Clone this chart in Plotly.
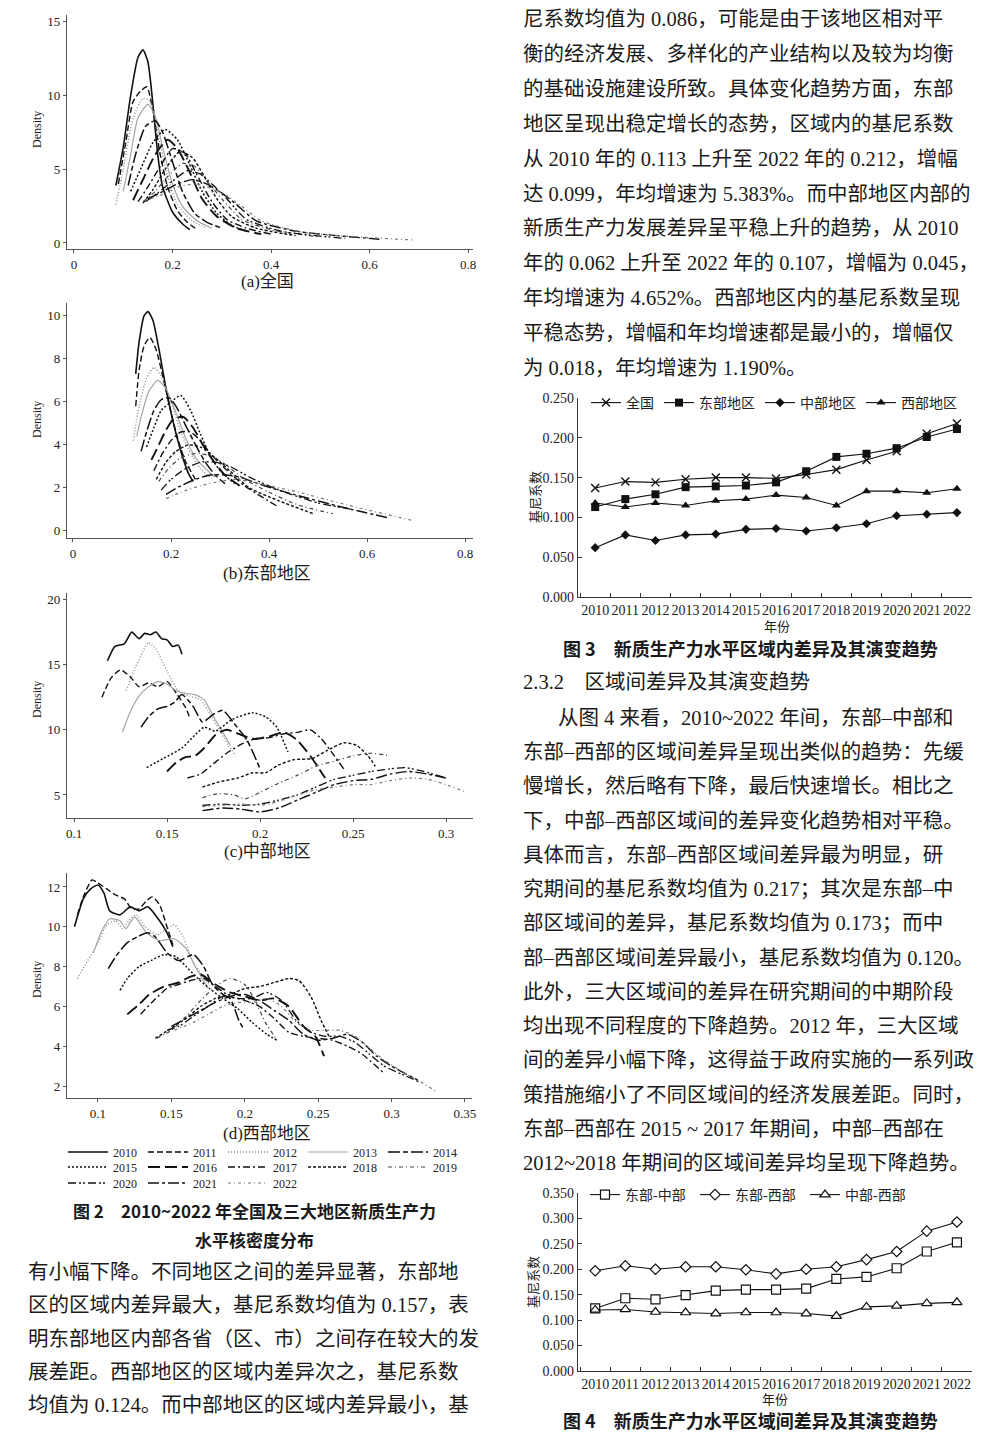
import plotly.graph_objects as go

# page offset of the default HTML body margin
OFF = 8
W, H = 992, 1448


def fx(p):
    return (p - OFF) / W


def fy(p):
    return 1 - (p - OFF) / H


YEARS = [str(y) for y in range(2010, 2023)]

# ---------------- Figure 2 kernel density curves ----------------
nat_x = [
    [0.085, 0.10, 0.115, 0.13, 0.14, 0.15, 0.16, 0.17, 0.18, 0.20, 0.22, 0.235],
    [0.09, 0.105, 0.12, 0.135, 0.148, 0.16, 0.175, 0.19, 0.21, 0.23, 0.25],
    [0.085, 0.10, 0.12, 0.14, 0.155, 0.17, 0.19, 0.21, 0.24, 0.27],
    [0.10, 0.115, 0.13, 0.15, 0.165, 0.18, 0.20, 0.22, 0.25, 0.28],
    [0.11, 0.125, 0.145, 0.165, 0.18, 0.20, 0.22, 0.245, 0.27, 0.30],
    [0.115, 0.135, 0.16, 0.185, 0.21, 0.235, 0.26, 0.29, 0.32, 0.35],
    [0.12, 0.14, 0.165, 0.19, 0.21, 0.235, 0.26, 0.29, 0.33, 0.38],
    [0.13, 0.15, 0.175, 0.20, 0.225, 0.25, 0.28, 0.31, 0.35, 0.40],
    [0.14, 0.16, 0.185, 0.215, 0.24, 0.265, 0.29, 0.32, 0.37, 0.45],
    [0.14, 0.165, 0.19, 0.22, 0.245, 0.27, 0.30, 0.34, 0.40, 0.50],
    [0.145, 0.17, 0.20, 0.23, 0.255, 0.28, 0.31, 0.35, 0.42, 0.55],
    [0.15, 0.175, 0.21, 0.24, 0.27, 0.30, 0.33, 0.37, 0.45, 0.62],
    [0.155, 0.18, 0.21, 0.245, 0.28, 0.31, 0.34, 0.38, 0.47, 0.69],
]
nat_y = [
    [3.9, 6.5, 10.0, 12.6, 13.1, 12.3, 9.5, 6.0, 3.8, 2.1, 1.3, 0.9],
    [4.0, 6.8, 9.6, 10.3, 10.6, 9.0, 6.0, 3.8, 2.2, 1.4, 0.9],
    [2.6, 5.0, 8.5, 9.8, 9.6, 7.5, 4.5, 2.6, 1.5, 1.0],
    [3.5, 6.0, 8.5, 9.4, 8.6, 6.5, 4.0, 2.5, 1.5, 1.0],
    [3.9, 6.0, 7.9, 8.3, 7.5, 5.5, 3.5, 2.0, 1.4, 1.0],
    [3.5, 5.0, 6.8, 7.7, 7.0, 5.3, 3.5, 2.0, 1.2, 0.8],
    [2.9, 4.3, 6.0, 7.0, 6.4, 4.8, 3.0, 1.8, 1.0, 0.6],
    [2.8, 3.8, 5.2, 6.4, 6.1, 4.6, 2.8, 1.6, 1.0, 0.6],
    [2.7, 3.6, 5.0, 6.2, 5.8, 4.5, 3.0, 1.8, 1.0, 0.5],
    [2.8, 3.5, 4.5, 5.4, 5.2, 4.2, 3.0, 1.6, 0.9, 0.4],
    [2.8, 3.4, 4.2, 4.9, 4.7, 4.0, 3.0, 1.6, 0.8, 0.3],
    [3.0, 3.4, 4.0, 4.3, 4.0, 3.4, 2.6, 1.5, 0.8, 0.25],
    [3.0, 3.3, 3.8, 4.0, 3.7, 3.2, 2.5, 1.5, 0.7, 0.2],
]

east_x = [
    [0.128, 0.135, 0.145, 0.153, 0.163, 0.175, 0.19, 0.205, 0.22, 0.235, 0.245],
    [0.128, 0.135, 0.145, 0.157, 0.17, 0.185, 0.20, 0.215, 0.23, 0.25],
    [0.123, 0.135, 0.15, 0.165, 0.18, 0.20, 0.22, 0.24, 0.26, 0.28],
    [0.13, 0.14, 0.155, 0.173, 0.19, 0.21, 0.23, 0.25, 0.275, 0.29],
    [0.139, 0.15, 0.165, 0.18, 0.195, 0.21, 0.23, 0.25, 0.27, 0.29, 0.31],
    [0.15, 0.165, 0.18, 0.20, 0.22, 0.24, 0.26, 0.28, 0.30, 0.33],
    [0.16, 0.175, 0.19, 0.205, 0.225, 0.245, 0.265, 0.285, 0.31, 0.34],
    [0.165, 0.18, 0.20, 0.22, 0.24, 0.26, 0.28, 0.31, 0.35, 0.42],
    [0.17, 0.19, 0.21, 0.235, 0.26, 0.29, 0.32, 0.36, 0.42, 0.49],
    [0.175, 0.195, 0.22, 0.25, 0.28, 0.31, 0.35, 0.40, 0.46, 0.53],
    [0.18, 0.20, 0.23, 0.26, 0.29, 0.32, 0.36, 0.42, 0.50, 0.57],
    [0.19, 0.22, 0.25, 0.28, 0.31, 0.34, 0.39, 0.45, 0.55, 0.645],
    [0.19, 0.22, 0.26, 0.30, 0.33, 0.36, 0.40, 0.46, 0.56, 0.69],
]
east_y = [
    [7.3, 8.8, 10.0, 10.2, 9.8, 8.5, 6.6, 5.0, 3.7, 2.7, 2.3],
    [5.8, 7.5, 8.6, 9.0, 8.4, 7.0, 5.5, 4.2, 3.2, 2.4],
    [4.2, 5.8, 7.1, 7.6, 7.2, 6.0, 4.6, 3.6, 2.9, 2.5],
    [4.4, 5.4, 6.5, 7.0, 6.6, 5.5, 4.3, 3.4, 2.8, 2.5],
    [3.7, 4.6, 5.6, 6.1, 6.2, 5.8, 4.9, 4.0, 3.2, 2.6, 2.2],
    [3.9, 4.8, 5.6, 6.0, 6.3, 5.6, 4.5, 3.5, 2.8, 2.2],
    [3.3, 4.0, 4.7, 5.2, 5.3, 4.8, 4.0, 3.3, 2.6, 2.1],
    [2.8, 3.5, 4.2, 4.6, 4.6, 4.2, 3.6, 2.9, 2.1, 1.1],
    [2.4, 3.2, 3.7, 4.0, 3.9, 3.4, 2.8, 2.0, 1.4, 0.8],
    [2.3, 2.9, 3.4, 3.6, 3.5, 3.1, 2.4, 1.8, 1.2, 0.8],
    [1.9, 2.4, 2.9, 3.2, 3.2, 3.0, 2.5, 1.9, 1.3, 1.0],
    [1.7, 2.1, 2.4, 2.6, 2.6, 2.5, 2.1, 1.7, 1.1, 0.6],
    [1.5, 1.8, 2.1, 2.3, 2.4, 2.3, 2.1, 1.8, 1.2, 0.5],
]

cent_x = [
    [0.118, 0.122, 0.127, 0.131, 0.135, 0.138, 0.141, 0.144, 0.147, 0.150, 0.153, 0.156, 0.158],
    [0.115, 0.12, 0.125, 0.13, 0.135, 0.14, 0.145, 0.15, 0.155, 0.16, 0.162],
    [0.128, 0.133, 0.137, 0.14, 0.144, 0.15, 0.156, 0.162, 0.168, 0.172, 0.178, 0.183, 0.187],
    [0.126, 0.13, 0.135, 0.14, 0.145, 0.15, 0.155, 0.16, 0.165, 0.17, 0.175, 0.18, 0.184],
    [0.136, 0.14, 0.145, 0.15, 0.154, 0.158, 0.164, 0.169, 0.175, 0.18, 0.186, 0.193, 0.2],
    [0.139, 0.148, 0.158, 0.165, 0.17, 0.176, 0.185, 0.196, 0.203, 0.209, 0.215],
    [0.15, 0.155, 0.16, 0.165, 0.17, 0.176, 0.182, 0.19, 0.197, 0.205, 0.213, 0.22, 0.228, 0.235],
    [0.161, 0.168, 0.175, 0.182, 0.19, 0.197, 0.205, 0.213, 0.22, 0.227, 0.233, 0.24, 0.245],
    [0.169, 0.178, 0.188, 0.196, 0.203, 0.21, 0.218, 0.228, 0.236, 0.245, 0.252, 0.258, 0.262],
    [0.169, 0.178, 0.186, 0.192, 0.2, 0.21, 0.22, 0.23, 0.24, 0.25, 0.26, 0.27],
    [0.169, 0.18, 0.19, 0.2, 0.21, 0.22, 0.23, 0.24, 0.25, 0.26, 0.27, 0.278, 0.288, 0.3],
    [0.169, 0.18, 0.19, 0.2, 0.21, 0.22, 0.23, 0.24, 0.25, 0.26, 0.27, 0.28, 0.29, 0.3],
    [0.169, 0.18, 0.19, 0.2, 0.21, 0.22, 0.23, 0.24, 0.25, 0.26, 0.27, 0.28, 0.29, 0.3, 0.311],
]
cent_y = [
    [15.3, 16.4, 16.6, 17.5, 17.0, 17.4, 17.3, 17.5, 17.0, 16.9, 16.4, 16.5, 15.8],
    [12.5, 14.0, 14.6, 14.1, 13.3, 13.6, 13.3, 13.7, 12.8, 11.7, 11.0],
    [13.0, 14.8, 16.0, 16.7, 16.2, 14.5, 13.0, 12.6, 12.3, 11.5, 10.0, 8.8, 8.0],
    [9.8, 11.3, 12.6, 13.3, 13.7, 13.5, 13.0, 12.8, 12.7, 12.3, 11.0, 9.8, 8.8],
    [10.2, 11.0, 11.6, 11.8, 12.1, 12.7, 11.8, 10.6, 11.2, 11.5, 10.5, 9.2, 7.0],
    [7.1, 7.8, 8.6, 9.6, 10.2, 9.9, 10.8, 11.3, 11.0, 10.2, 8.3],
    [6.8, 7.5, 7.9, 8.0, 8.6, 9.6, 10.0, 9.6, 9.3, 9.5, 9.8, 9.2, 7.8, 6.3],
    [6.3, 6.6, 7.4, 8.2, 8.9, 9.3, 9.4, 9.7, 9.8, 10.0, 9.3, 8.0, 7.0],
    [5.6, 6.0, 6.3, 6.7, 6.7, 7.3, 7.7, 7.8, 8.4, 9.0, 8.8, 8.0, 7.2],
    [4.8, 5.1, 5.0, 4.7, 5.2, 5.9, 6.5, 7.2, 7.6, 8.0, 8.2, 8.0],
    [4.2, 4.3, 4.2, 4.3, 4.6, 5.0, 5.6, 6.2, 6.5, 6.8, 7.0, 7.1, 6.8, 6.3],
    [3.8, 4.0, 3.9, 3.7, 4.0, 4.6, 5.2, 5.8, 6.1, 6.2, 6.6, 6.8, 6.6, 6.3],
    [4.1, 4.2, 4.3, 4.2, 4.5, 5.0, 5.4, 5.6, 5.8, 5.8, 6.1, 6.3, 6.2, 5.8, 5.2],
]

west_x = [
    [0.084, 0.09, 0.095, 0.1, 0.104, 0.108, 0.115, 0.122, 0.128, 0.134, 0.141, 0.147, 0.151],
    [0.086, 0.09, 0.096, 0.1, 0.106, 0.112, 0.118, 0.123, 0.128, 0.133, 0.137, 0.142, 0.147, 0.151],
    [0.086, 0.093, 0.1, 0.106, 0.112, 0.117, 0.121, 0.126, 0.132, 0.14, 0.147, 0.152, 0.158, 0.165, 0.176],
    [0.097, 0.102, 0.108, 0.115, 0.119, 0.125, 0.133, 0.142, 0.152, 0.16, 0.167, 0.175],
    [0.107, 0.113, 0.12, 0.127, 0.134, 0.139, 0.147, 0.155, 0.165, 0.172, 0.178, 0.185, 0.19, 0.196, 0.199],
    [0.115, 0.12, 0.128, 0.136, 0.145, 0.153, 0.16, 0.168, 0.176, 0.185, 0.195, 0.205, 0.215, 0.222],
    [0.12, 0.128, 0.135, 0.145, 0.155, 0.163, 0.17, 0.18, 0.19, 0.2, 0.21, 0.22, 0.23, 0.24, 0.248, 0.254],
    [0.129, 0.138, 0.147, 0.155, 0.163, 0.172, 0.18, 0.19, 0.2, 0.21, 0.22, 0.23, 0.24, 0.25, 0.26, 0.27, 0.28, 0.294],
    [0.139, 0.15, 0.16, 0.17, 0.18, 0.19, 0.2, 0.21, 0.22, 0.23, 0.237, 0.245, 0.252, 0.258],
    [0.14, 0.15, 0.16, 0.17, 0.18, 0.19, 0.2, 0.207, 0.214, 0.222],
    [0.147, 0.155, 0.165, 0.175, 0.185, 0.195, 0.205, 0.215, 0.225, 0.235, 0.245, 0.255, 0.265, 0.275, 0.285, 0.295, 0.31, 0.319],
    [0.15, 0.16, 0.17, 0.18, 0.19, 0.2, 0.21, 0.22, 0.23, 0.24, 0.25, 0.26, 0.27, 0.28, 0.29, 0.3, 0.31, 0.318],
    [0.152, 0.165, 0.175, 0.185, 0.195, 0.205, 0.215, 0.225, 0.235, 0.245, 0.255, 0.265, 0.275, 0.285, 0.295, 0.31, 0.32, 0.331],
]
west_y = [
    [10.0, 11.4, 11.9, 12.1, 11.7, 10.8, 10.6, 11.0, 10.8, 11.0, 10.4, 9.7, 9.0],
    [10.6, 11.5, 12.35, 12.2, 11.9, 11.6, 11.4, 10.9, 10.9, 11.3, 11.5, 11.1, 10.0, 9.1],
    [7.4, 8.3, 9.2, 10.1, 10.3, 9.9, 10.3, 10.6, 10.0, 9.6, 9.9, 10.1, 9.5, 8.2, 7.1],
    [8.7, 9.7, 10.4, 10.3, 9.9, 10.5, 9.7, 9.3, 9.4, 8.9, 7.9, 6.9],
    [7.9, 8.6, 9.2, 9.5, 9.7, 9.5, 8.7, 8.3, 8.6, 8.0, 7.1, 6.6, 6.4, 5.3, 4.9],
    [6.8, 7.4, 8.0, 8.3, 8.6, 8.5, 8.0, 7.4, 6.9, 6.4, 5.9, 5.2, 4.6, 4.3],
    [5.6, 6.1, 6.6, 7.0, 7.2, 7.5, 7.6, 7.1, 6.7, 6.5, 6.3, 6.4, 6.0, 5.0, 4.5, 3.5],
    [5.6, 6.3, 6.9, 7.1, 7.3, 7.4, 7.0, 6.5, 6.3, 6.0, 5.4, 4.7, 4.5, 4.4, 4.3, 4.0, 3.6, 2.7],
    [4.4, 4.9, 5.4, 6.0, 6.4, 6.6, 6.9, 7.0, 7.2, 7.4, 7.3, 6.5, 5.3, 4.4],
    [4.4, 4.8, 5.5, 6.3, 7.0, 7.4, 7.1, 6.3, 5.2, 4.3],
    [4.8, 5.0, 5.5, 6.0, 6.5, 6.4, 6.4, 6.7, 6.3, 5.3, 4.7, 4.5, 4.5, 4.2, 3.6, 3.0, 2.5, 2.2],
    [5.0, 5.4, 5.8, 6.2, 6.5, 6.6, 6.3, 5.8, 5.3, 4.6, 4.3, 4.4, 4.6, 4.2, 3.5, 3.0, 2.6, 2.3],
    [4.8, 5.2, 5.6, 6.0, 6.2, 6.2, 6.4, 6.0, 5.2, 4.8, 4.8, 4.8, 4.5, 3.9, 3.3, 2.6, 2.2, 1.7],
]

# ---------------- Figure 3: within-region Gini ----------------
fig3_national = [0.137, 0.145, 0.144, 0.148, 0.150, 0.150, 0.149, 0.154, 0.160, 0.172, 0.183, 0.205, 0.218]
fig3_east = [0.113, 0.123, 0.129, 0.138, 0.139, 0.140, 0.144, 0.158, 0.176, 0.180, 0.187, 0.201, 0.211]
fig3_central = [0.062, 0.078, 0.071, 0.078, 0.079, 0.085, 0.086, 0.083, 0.087, 0.092, 0.102, 0.104, 0.106]
fig3_west = [0.118, 0.113, 0.118, 0.115, 0.121, 0.123, 0.128, 0.125, 0.115, 0.133, 0.133, 0.131, 0.136]
fig3_names = ["全国", "东部地区", "中部地区", "西部地区"]

# ---------------- Figure 4: between-region Gini ----------------
fig4_east_central = [0.123, 0.143, 0.141, 0.149, 0.158, 0.160, 0.160, 0.162, 0.181, 0.185, 0.202, 0.235, 0.253]
fig4_east_west = [0.197, 0.207, 0.200, 0.205, 0.205, 0.199, 0.191, 0.200, 0.205, 0.219, 0.235, 0.275, 0.293]
fig4_central_west = [0.120, 0.121, 0.116, 0.115, 0.113, 0.115, 0.115, 0.113, 0.108, 0.126, 0.128, 0.133, 0.135]
fig4_names = ["东部-中部", "东部-西部", "中部-西部"]

gini_ticks3 = [0, 0.05, 0.10, 0.15, 0.20, 0.25]
gini_ticks4 = [0, 0.05, 0.10, 0.15, 0.20, 0.25, 0.30, 0.35]

# ---------------- text ----------------
right_para1 = [
    "尼系数均值为 0.086，可能是由于该地区相对平",
    "衡的经济发展、多样化的产业结构以及较为均衡",
    "的基础设施建设所致。具体变化趋势方面，东部",
    "地区呈现出稳定增长的态势，区域内的基尼系数",
    "从 2010 年的 0.113 上升至 2022 年的 0.212，增幅",
    "达 0.099，年均增速为 5.383%。而中部地区内部的",
    "新质生产力发展差异呈平稳上升的趋势，从 2010",
    "年的 0.062 上升至 2022 年的 0.107，增幅为 0.045，",
    "年均增速为 4.652%。西部地区内的基尼系数呈现",
    "平稳态势，增幅和年均增速都是最小的，增幅仅",
    "为 0.018，年均增速为 1.190%。",
]
right_para2 = [
    "从图 4 来看，2010~2022 年间，东部–中部和",
    "东部–西部的区域间差异呈现出类似的趋势：先缓",
    "慢增长，然后略有下降，最后快速增长。相比之",
    "下，中部–西部区域间的差异变化趋势相对平稳。",
    "具体而言，东部–西部区域间差异最为明显，研",
    "究期间的基尼系数均值为 0.217；其次是东部–中",
    "部区域间的差异，基尼系数均值为 0.173；而中",
    "部–西部区域间差异最小，基尼系数均值为 0.120。",
    "此外，三大区域间的差异在研究期间的中期阶段",
    "均出现不同程度的下降趋势。2012 年，三大区域",
    "间的差异小幅下降，这得益于政府实施的一系列政",
    "策措施缩小了不同区域间的经济发展差距。同时，",
    "东部–西部在 2015 ~ 2017 年期间，中部–西部在",
    "2012~2018 年期间的区域间差异均呈现下降趋势。",
]
left_para = [
    "有小幅下降。不同地区之间的差异显著，东部地",
    "区的区域内差异最大，基尼系数均值为 0.157，表",
    "明东部地区内部各省（区、市）之间存在较大的发",
    "展差距。西部地区的区域内差异次之，基尼系数",
    "均值为 0.124。而中部地区的区域内差异最小，基",
]

SERIF = "Liberation Serif, Noto Sans CJK SC"
CJK = "Noto Sans CJK SC"
INK = "#1a1a1a"

LINE_STYLES = [
    ("#111111", "solid", 1.6),
    ("#111111", "6px,3px", 1.4),
    ("#8c8c8c", "1px,2px", 1.4),
    ("#a5a5a5", "solid", 1.2),
    ("#111111", "12px,3px,5px,3px", 1.5),
    ("#111111", "2px,2px", 1.5),
    ("#111111", "12px,5px", 1.9),
    ("#111111", "7px,3px,2px,3px", 1.4),
    ("#111111", "3px,2px", 1.4),
    ("#444444", "4px,3px,1px,3px", 1.2),
    ("#111111", "8px,3px,2px,2px,2px,3px", 1.3),
    ("#111111", "11px,3px,3px,3px", 1.4),
    ("#777777", "3px,3px,1px,3px", 1.2),
]

fig = go.Figure()

panels = [
    (nat_x, nat_y, "x", "y", True),
    (east_x, east_y, "x2", "y2", False),
    (cent_x, cent_y, "x3", "y3", False),
    (west_x, west_y, "x4", "y4", False),
]


def legend_of(i):
    return "legend" if i < 5 else ("legend2" if i < 10 else "legend3")


for xs, ys, xa, ya, show in panels:
    for i, yr in enumerate(YEARS):
        color, dash, width = LINE_STYLES[i]
        fig.add_trace(go.Scatter(
            x=xs[i], y=ys[i], xaxis=xa, yaxis=ya, mode="lines", name=yr,
            line=dict(color=color, dash=dash, width=width, shape="spline", smoothing=0.6),
            showlegend=show, legend=legend_of(i), hoverinfo="skip"))

# Figure 3 traces
f3_series = [fig3_national, fig3_east, fig3_central, fig3_west]
f3_markers = [
    dict(symbol="x-thin-open", size=8, color="#111", line=dict(width=1.4, color="#111")),
    dict(symbol="square", size=8, color="#111"),
    dict(symbol="diamond", size=7, color="#111"),
    dict(symbol="triangle-up", size=8, color="#111"),
]
for name, vals, mk in zip(fig3_names, f3_series, f3_markers):
    fig.add_trace(go.Scatter(
        x=YEARS, y=vals, xaxis="x5", yaxis="y5", mode="lines+markers", name=name,
        line=dict(color="#111", width=1.1), marker=mk, legend="legend4", hoverinfo="skip"))

# Figure 4 traces
f4_series = [fig4_east_central, fig4_east_west, fig4_central_west]
f4_markers = [
    dict(symbol="square", size=9, color="white", line=dict(width=1.2, color="#111")),
    dict(symbol="diamond", size=8, color="white", line=dict(width=1.2, color="#111")),
    dict(symbol="triangle-up", size=9, color="white", line=dict(width=1.2, color="#111")),
]
for name, vals, mk in zip(fig4_names, f4_series, f4_markers):
    fig.add_trace(go.Scatter(
        x=YEARS, y=vals, xaxis="x6", yaxis="y6", mode="lines+markers", name=name,
        line=dict(color="#111", width=1.1), marker=mk, legend="legend5", hoverinfo="skip"))

tickfont = dict(family="Liberation Serif", size=13, color="#222")
tickfont14 = dict(family="Liberation Serif", size=14, color="#222")
dens_common = dict(showline=True, linecolor="#555", linewidth=1.4, ticks="outside", ticklen=3,
                   tickwidth=1, tickcolor="#555", showgrid=False, zeroline=False,
                   tickfont=tickfont, fixedrange=True)
line_common = dict(showline=True, linecolor="#333", linewidth=1.2, ticks="inside", ticklen=4,
                   tickwidth=1, tickcolor="#333", showgrid=False, zeroline=False,
                   tickfont=tickfont14, fixedrange=True)


def fmt_ticks(vals):
    return [f"{v:g}" for v in vals]


ax = {}
ax["xaxis"] = dict(domain=[fx(67), fx(473)], range=[-0.0142, 0.81], anchor="y",
                   tickvals=[0, 0.2, 0.4, 0.6, 0.8], ticktext=fmt_ticks([0, 0.2, 0.4, 0.6, 0.8]), **dens_common)
ax["yaxis"] = dict(domain=[fy(249), fy(15)], range=[-0.41, 15.47], anchor="x",
                   tickvals=[0, 5, 10, 15], **dens_common)
ax["xaxis2"] = dict(domain=[fx(67), fx(473)], range=[-0.0122, 0.816], anchor="y2",
                    tickvals=[0, 0.2, 0.4, 0.6, 0.8], ticktext=fmt_ticks([0, 0.2, 0.4, 0.6, 0.8]), **dens_common)
ax["yaxis2"] = dict(domain=[fy(538), fy(303)], range=[-0.33, 10.6], anchor="x2",
                    tickvals=[0, 2, 4, 6, 8, 10], **dens_common)
ax["xaxis3"] = dict(domain=[fx(67), fx(473)], range=[0.0962, 0.3145], anchor="y3",
                    tickvals=[0.1, 0.15, 0.2, 0.25, 0.3], ticktext=fmt_ticks([0.1, 0.15, 0.2, 0.25, 0.3]), **dens_common)
ax["yaxis3"] = dict(domain=[fy(818), fy(593)], range=[3.23, 20.5], anchor="x3",
                    tickvals=[5, 10, 15, 20], **dens_common)
ax["xaxis4"] = dict(domain=[fx(67), fx(472)], range=[0.0789, 0.3548], anchor="y4",
                    tickvals=[0.1, 0.15, 0.2, 0.25, 0.3, 0.35],
                    ticktext=fmt_ticks([0.1, 0.15, 0.2, 0.25, 0.3, 0.35]), **dens_common)
ax["yaxis4"] = dict(domain=[fy(1098), fy(873)], range=[1.40, 12.7], anchor="x4",
                    tickvals=[2, 4, 6, 8, 10, 12], **dens_common)
ax["xaxis5"] = dict(domain=[fx(578), fx(972)], type="category", categoryorder="array",
                    categoryarray=YEARS, range=[-0.57, 12.5], anchor="y5", tickson="boundaries",
                    tickangle=0, **line_common)
ax["yaxis5"] = dict(domain=[fy(597), fy(398)], range=[0, 0.25], anchor="x5",
                    tickvals=gini_ticks3, ticktext=[f"{v:.3f}" for v in gini_ticks3], **line_common)
ax["xaxis6"] = dict(domain=[fx(578), fx(972)], type="category", categoryorder="array",
                    categoryarray=YEARS, range=[-0.57, 12.5], anchor="y6", tickson="boundaries",
                    tickangle=0, **line_common)
ax["yaxis6"] = dict(domain=[fy(1371), fy(1193)], range=[0, 0.35], anchor="x6",
                    tickvals=gini_ticks4, ticktext=[f"{v:.3f}" for v in gini_ticks4], **line_common)

leg_dens = dict(orientation="h", font=dict(family="Liberation Serif", size=12, color="#222"),
                bgcolor="rgba(0,0,0,0)", borderwidth=0, itemwidth=40, entrywidth=25,
                entrywidthmode="pixels", xanchor="left", yanchor="middle", tracegroupgap=0,
                itemclick=False, itemdoubleclick=False)
leg_line = dict(orientation="h", font=dict(family=SERIF, size=14, color="#222"),
                bgcolor="rgba(0,0,0,0)", borderwidth=0, xanchor="left", yanchor="middle",
                itemclick=False, itemdoubleclick=False)

annotations = []


def txt(x, y, s, size=20.5, family=SERIF, xanchor="left", angle=0, color=INK):
    annotations.append(dict(x=fx(x), y=fy(y), xref="paper", yref="paper", text=s, showarrow=False,
                            xanchor=xanchor, yanchor="middle", textangle=angle,
                            font=dict(family=family, size=size, color=color)))


# density labels and panel captions
for yc in (130, 420, 700, 980):
    txt(37, yc, "Density", size=12, family="Liberation Serif", xanchor="center", angle=-90)
for yc, cap in ((281, "(a)全国"), (573, "(b)东部地区"), (851, "(c)中部地区"), (1133, "(d)西部地区")):
    txt(267, yc, cap, size=17, xanchor="center")

# figure captions
txt(254, 1210, "<b>图 2　2010~2022 年全国及三大地区新质生产力</b>", size=17, family=CJK, xanchor="center")
txt(254, 1239, "<b>水平核密度分布</b>", size=17, family=CJK, xanchor="center")
txt(750, 648, "<b>图 3　新质生产力水平区域内差异及其演变趋势</b>", size=18, family=CJK, xanchor="center")
txt(750, 1420, "<b>图 4　新质生产力水平区域间差异及其演变趋势</b>", size=18, family=CJK, xanchor="center")

# axis titles for fig 3 / fig 4
txt(534, 497, "基尼系数", size=13, family=CJK, xanchor="center", angle=-90)
txt(777, 625, "年份", size=13, family=CJK, xanchor="center")
txt(532, 1282, "基尼系数", size=13, family=CJK, xanchor="center", angle=-90)
txt(775, 1398, "年份", size=13, family=CJK, xanchor="center")

# body text
for i, line in enumerate(right_para1):
    txt(521, 19 + 34.9 * i, line)
txt(521, 682, "2.3.2　区域间差异及其演变趋势")
for i, line in enumerate(right_para2):
    txt(556 if i == 0 else 521, 718 + 34.23 * i, line)
for i, line in enumerate(left_para):
    txt(26, 1272 + 33.3 * i, line)

fig.update_layout(
    width=W, height=H, margin=dict(l=0, r=0, t=0, b=0, autoexpand=False),
    paper_bgcolor="white", plot_bgcolor="white",
    legend=dict(x=fx(63), y=fy(1152), **leg_dens),
    legend2=dict(x=fx(63), y=fy(1167), **leg_dens),
    legend3=dict(x=fx(63), y=fy(1183), **leg_dens),
    legend4=dict(x=fx(586), y=fy(403), **leg_line),
    legend5=dict(x=fx(585), y=fy(1195), entrywidth=65, entrywidthmode="pixels", **leg_line),
    annotations=annotations,
    showlegend=True,
    **ax,
)

fig.write_html("out.html")
